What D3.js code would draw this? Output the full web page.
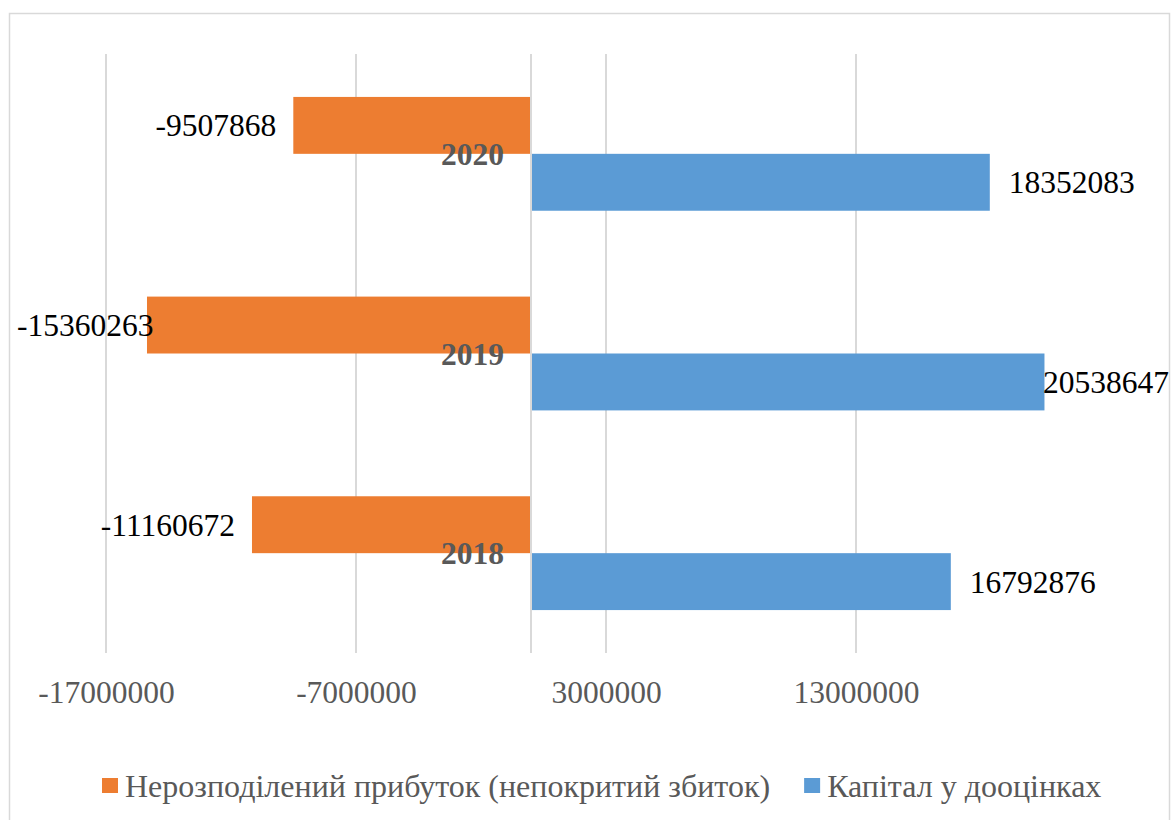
<!DOCTYPE html>
<html>
<head>
<meta charset="utf-8">
<script src="https://cdn.jsdelivr.net/npm/d3@7"></script>
<style>
  html, body { margin: 0; padding: 0; background: #ffffff; }
  svg { display: block; }
  svg text { font-family: 'Liberation Serif', 'Times New Roman', serif; }
</style>
</head>
<body>
<svg id="chart" width="1171" height="820"></svg>
<script>
const categories = ["2020", "2019", "2018"];
const retainedEarnings = [-9507868, -15360263, -11160672];
const revaluationCapital = [18352083, 20538647, 16792876];
const seriesNames = ["Нерозподілений прибуток (непокритий збиток)", "Капітал у дооцінках"];
const seriesColors = ["#ED7D31", "#5B9BD5"];
const tickValues = [-17000000, -7000000, 3000000, 13000000];
const xDomain = [-17000000, 23000000];

const svg = d3.select("#chart");
const W = 1171, H = 820;
const plot = { left: 106, right: 1106, top: 54, bottom: 653 };
const serif = "'Liberation Serif', 'Times New Roman', serif";

// chart border
svg.append("rect")
  .attr("x", 9.5).attr("y", 13.5)
  .attr("width", 1160).attr("height", H)
  .attr("fill", "#fff").attr("stroke", "#D9D9D9").attr("stroke-width", 1.5);

const x = d3.scaleLinear().domain(xDomain).range([plot.left, plot.right]);
const y = d3.scaleBand().domain(categories).range([plot.top, plot.bottom]).paddingInner(0.43).paddingOuter(0.215);
const series = [retainedEarnings, revaluationCapital];
const ySub = d3.scaleBand().domain([0, 1]).range([0, y.bandwidth()]);

// gridlines
const grid = svg.append("g");
grid.selectAll("line").data(tickValues).join("line")
  .attr("x1", d => x(d)).attr("x2", d => x(d))
  .attr("y1", plot.top).attr("y2", plot.bottom)
  .attr("stroke", "#D9D9D9").attr("stroke-width", 2);

// tick labels via axis
const axis = d3.axisBottom(x).tickValues(tickValues).tickFormat(d => String(d)).tickSize(0).tickPadding(0);
const ax = svg.append("g").attr("transform", `translate(0,${plot.bottom})`).call(axis);
ax.attr("font-family", null).attr("font-size", null);
ax.select(".domain").remove();
ax.selectAll("text")
  .style("font-family", serif).style("font-size", "31.5px").attr("fill", "#595959")
  .attr("dy", 0).attr("y", 50);

// bars
const groups = svg.append("g").selectAll("g").data(categories).join("g")
  .attr("transform", d => `translate(0,${y(d)})`);

series.forEach((vals, si) => {
  groups.append("rect")
    .attr("x", (d, i) => Math.min(x(0), x(vals[i])))
    .attr("y", ySub(si))
    .attr("width", (d, i) => Math.abs(x(vals[i]) - x(0)))
    .attr("height", ySub.bandwidth())
    .attr("fill", seriesColors[si]);
});

// zero axis line
svg.append("line")
  .attr("x1", x(0)).attr("x2", x(0))
  .attr("y1", plot.top).attr("y2", plot.bottom)
  .attr("stroke", "#D9D9D9").attr("stroke-width", 2);

// category labels
svg.append("g").selectAll("text").data(categories).join("text")
  .attr("x", x(0) - 27)
  .attr("y", d => y(d) + y.bandwidth() / 2)
  .attr("dy", "0.35em")
  .attr("text-anchor", "end")
  .style("font-family", serif).style("font-size", "31.5px").attr("font-weight", "bold")
  .attr("fill", "#595959")
  .text(d => d);

// value labels
const labelG = svg.append("g");
series.forEach((vals, si) => {
  categories.forEach((c, i) => {
    const v = vals[i];
    const t = labelG.append("text")
      .attr("y", y(c) + ySub(si) + ySub.bandwidth() / 2)
      .attr("dy", "0.35em")
      .style("font-family", serif).style("font-size", "31.5px")
      .attr("fill", "#000")
      .text(v);
    const w = t.node().getComputedTextLength();
    if (v < 0) {
      let right = x(v) - 17;
      if (right - w < 17) right = 17 + w;
      t.attr("x", right).attr("text-anchor", "end");
    } else {
      let left = x(v) + 19;
      if (left + w > 1169) left = 1169 - w;
      t.attr("x", left).attr("text-anchor", "start");
    }
  });
});

// legend
const legend = svg.append("g").attr("transform", "translate(0,786)");
let lx = 102;
seriesNames.forEach((name, i) => {
  legend.append("rect").attr("x", lx).attr("y", -8).attr("width", 16).attr("height", 15).attr("fill", seriesColors[i]);
  const t = legend.append("text")
    .attr("x", lx + 23).attr("y", 11)
    .style("font-family", serif).style("font-size", "32px").attr("fill", "#595959")
    .text(name);
  lx = lx + 23 + t.node().getComputedTextLength() + 34;
});
</script>
</body>
</html>
